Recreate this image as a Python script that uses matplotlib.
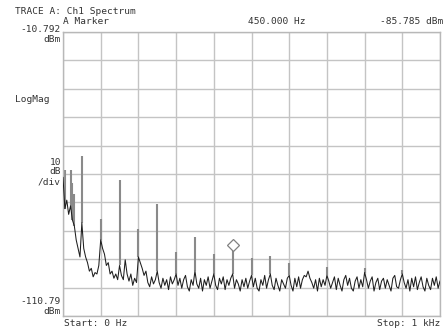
import numpy as np
import matplotlib
matplotlib.use("Agg")
import matplotlib.pyplot as plt

# trace A: noise floor, one value every 5 Hz from 0 Hz to 1 kHz (dBm)
freq_step = 5
noise_db = [
    -62, -73, -70, -75, -72, -77, -79, -84, -87, -90,
    -78, -87, -90, -92, -95, -94, -97, -95.5, -96, -93,
    -84, -87, -89, -93, -92, -96, -95, -97.5, -96, -98,
    -93, -96.5, -98, -91, -96, -98.5, -96, -100, -97.5, -99,
    -90, -92, -94, -96.5, -95, -99, -100.5, -97, -99.5, -98,
    -95, -99, -101, -97.5, -100, -98, -101.5, -97, -99.5, -98,
    -96, -100, -97.5, -101, -98, -96.5, -100.5, -102, -98, -100,
    -95, -99.5, -101, -97.5, -102, -98, -100, -97, -101, -98.5,
    -96, -100, -101.5, -97.5, -99.5, -97, -101.5, -98, -100, -97.5,
    -96, -101, -98, -99.5, -102, -98, -100.5, -97.5, -101, -98.5,
    -96.5, -100.5, -97.5, -101, -102, -98, -100, -96.5, -101, -98,
    -96, -100, -101.5, -97.5, -100, -102, -98, -99.5, -101, -97.5,
    -96.5, -100, -102, -97.5, -100.5, -97, -101, -98, -96.5, -97,
    -95, -97.5, -99, -101, -98, -102, -97.5, -100.5, -98, -100,
    -96.5, -98.5, -101, -99, -97, -101.5, -97.5, -100, -102, -98,
    -96.5, -100, -97.5, -101, -102, -98.5, -97, -101, -98, -100.5,
    -95.5, -98, -101, -98.5, -97, -102, -99, -97.5, -101.5, -98.5,
    -97.5, -101, -98, -100, -102, -97.5, -96.5, -100.5, -101, -98,
    -96, -99, -101, -98, -102, -97.5, -100.5, -97, -101.5, -99,
    -97, -100.5, -102, -97.5, -100, -101.5, -97.5, -100, -97, -101,
    -98.5,
]

# spectral lines (Hz, dBm)
line_freqs = [5, 20, 25, 30, 50, 100, 150, 200, 250, 300, 350, 400,
              450, 500, 550, 600, 650, 700, 800, 900]
line_db = [-59.5, -59.5, -64, -68, -54.3, -76.5, -62.9, -80.2, -71.4, -88.3,
           -83.0, -88.8, -85.785, -90.4, -89.7, -92.1, -95.0, -93.5, -93.9, -94.6]

marker_freq = 450.0
marker_db = -85.785

top_db = -10.792
bottom_db = -110.79
stop_hz = 1000

W, H = 443, 332
fig = plt.figure(figsize=(W / 100, H / 100), dpi=100)
ax = fig.add_axes([63 / W, 1 - 316 / H, 377 / W, 284 / H])

freqs = np.arange(len(noise_db)) * freq_step
ax.plot(freqs, noise_db, color="#1e1e1e", lw=0.75, zorder=3)

bases = [noise_db[int(f // freq_step)] for f in line_freqs]
ax.vlines(line_freqs, bases, line_db, color="#8a8a8a", lw=1.5, zorder=2)

ax.plot([marker_freq], [marker_db], marker="D", ms=6, mfc="white",
        mec="#808080", mew=0.9, zorder=4)

ax.set_xlim(0, stop_hz)
ax.set_ylim(bottom_db, top_db)
ax.set_xticks(np.linspace(0, stop_hz, 11))
ax.set_yticks(np.linspace(bottom_db, top_db, 11))
ax.grid(True, color="#c4c4c4", lw=1.0)
ax.tick_params(length=0, labelbottom=False, labelleft=False)
for s in ax.spines.values():
    s.set_color("#b8b8b8")
    s.set_linewidth(1.0)

# header and scale annotations
fs = 6.8
mono = "DejaVu Sans Mono"
tc = "#333333"

def put(x, y, s, ha="left"):
    fig.text(x / W, 1 - y / H, s, ha=ha, va="center", fontsize=fs,
             family=mono, color=tc)

put(15, 11, "TRACE A: Ch1 Spectrum")
put(63, 21, "A Marker")
put(305, 21, "%.3f Hz" % marker_freq, ha="right")
put(443, 21, "%.3f dBm" % marker_db, ha="right")
put(61, 29, "%.3f" % top_db, ha="right")
put(61, 39, "dBm", ha="right")
put(15, 100, "LogMag")
put(61, 162, "10", ha="right")
put(61, 172, "dB", ha="right")
put(61, 182, "/div", ha="right")
put(61, 301, "%.2f" % bottom_db, ha="right")
put(61, 311, "dBm", ha="right")
put(64, 324, "Start: 0 Hz")
put(440, 324, "Stop: 1 kHz", ha="right")

fig.savefig("out.png", dpi=100)
